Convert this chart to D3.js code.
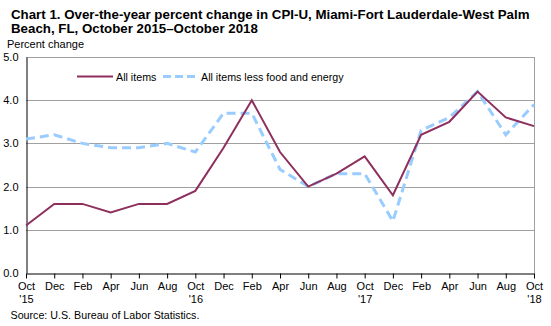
<!DOCTYPE html>
<html><head><meta charset="utf-8">
<script src="https://cdn.jsdelivr.net/npm/d3@7"></script>
<style>body{margin:0;background:#fff}svg{display:block}text{font-family:"Liberation Sans",Arial,sans-serif}</style>
</head><body><svg id="c" width="551" height="326"></svg>
<script>
const months = ["Oct","Dec","Feb","Apr","Jun","Aug","Oct","Dec","Feb","Apr","Jun","Aug","Oct","Dec","Feb","Apr","Jun","Aug","Oct"];
const years = ["'15","","","","","","'16","","","","","","'17","","","","","","'18"];
const allItems = [1.1,1.6,1.6,1.4,1.6,1.6,1.9,2.9,4.0,2.8,2.0,2.3,2.7,1.8,3.2,3.5,4.2,3.6,3.4];
const core = [3.1,3.2,3.0,2.9,2.9,3.0,2.8,3.7,3.7,2.4,2.0,2.3,2.3,1.2,3.3,3.6,4.2,3.2,3.9];
const yTicks = [0,1,2,3,4,5];

const svg = d3.select("#c");
const L=26,R=534,T=57,B=273;
const x = d3.scaleLinear().domain([0,months.length-1]).range([L,R]);
const y = d3.scaleLinear().domain([0,5]).range([B,T]);

// title
const title = svg.append("text").attr("font-weight","bold").attr("font-size","13.3px").attr("fill","#000");
title.append("tspan").attr("x",11).attr("y",18.5).text("Chart 1. Over-the-year percent change in CPI-U, Miami-Fort Lauderdale-West Palm");
title.append("tspan").attr("x",11).attr("y",32.5).text("Beach, FL, October 2015\u2013October  2018");
svg.append("text").attr("x",7).attr("y",47.5).attr("font-size","11px").text("Percent change");

// grid
svg.append("g").selectAll("line").data(yTicks.filter(d=>d>0)).join("line")
  .attr("x1",L).attr("x2",R).attr("y1",d=>Math.round(y(d))+0.5).attr("y2",d=>Math.round(y(d))+0.5)
  .attr("stroke","#a0a0a0").attr("stroke-width",1);
// right border
svg.append("line").attr("x1",R+0.5).attr("x2",R+0.5).attr("y1",T).attr("y2",B).attr("stroke","#a0a0a0");

// y axis
const ya = svg.append("g").attr("transform",`translate(${L+0.5},0)`)
  .call(d3.axisLeft(y).tickValues(yTicks).tickFormat(d3.format(".1f")).tickSize(0).tickPadding(8));
ya.select(".domain").attr("stroke","#000");
ya.selectAll("text").attr("font-size","11px").attr("font-family","Liberation Sans, Arial, sans-serif").attr("fill","#000");

// x axis
const xa = svg.append("g").attr("transform",`translate(0,${Math.round(B)+0.5})`)
  .call(d3.axisBottom(x).tickValues(d3.range(months.length)).tickSize(5).tickSizeOuter(0).tickFormat(""));
xa.select(".domain").attr("stroke","#000");
xa.selectAll(".tick line").attr("stroke","#000");
const xl = xa.selectAll(".tick").append("text").attr("fill","#000").attr("font-size","11px")
  .attr("font-family","Liberation Sans, Arial, sans-serif").attr("text-anchor","middle");
xl.append("tspan").attr("x",0).attr("y",16).text((d,i)=>months[i]);
xl.append("tspan").attr("x",0).attr("y",29).text((d,i)=>years[i]);

// lines
const line = d3.line().x((d,i)=>x(i)).y(d=>y(d));
svg.append("path").datum(core).attr("d",line).attr("fill","none")
  .attr("stroke","#99ccff").attr("stroke-width",3).attr("stroke-dasharray","9,5");
svg.append("path").datum(allItems).attr("d",line).attr("fill","none")
  .attr("stroke","#8e2f5e").attr("stroke-width",2);

// legend
const lg = svg.append("g");
lg.append("line").attr("x1",77).attr("x2",113).attr("y1",76.5).attr("y2",76.5).attr("stroke","#8e2f5e").attr("stroke-width",2);
lg.append("text").attr("x",116).attr("y",80.5).attr("font-size","10.7px").text("All items");
lg.append("line").attr("x1",163).attr("x2",198).attr("y1",76.5).attr("y2",76.5).attr("stroke","#99ccff").attr("stroke-width",3).attr("stroke-dasharray","8,4");
lg.append("text").attr("x",201).attr("y",80.5).attr("font-size","10.7px").text("All items less food and energy");

svg.append("text").attr("x",10.5).attr("y",318.5).attr("font-size","10.7px").text("Source: U.S. Bureau of Labor Statistics.");
</script></body></html>
